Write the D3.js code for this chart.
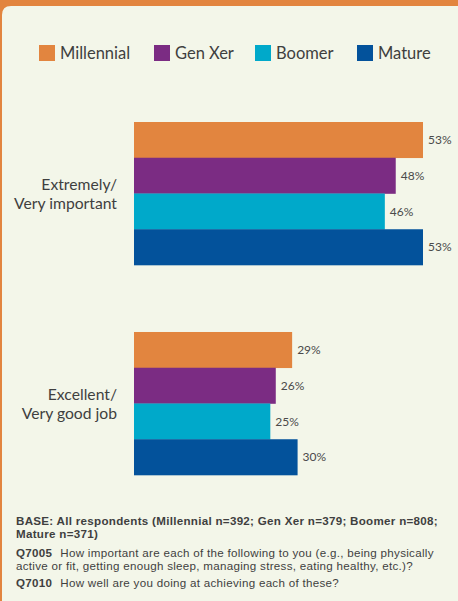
<!DOCTYPE html>
<html><head><meta charset="utf-8">
<script src="https://cdn.jsdelivr.net/npm/d3@7"></script>
<style>
html,body{margin:0;padding:0;background:#E2853F;}
svg{display:block;}
</style></head>
<body>
<svg id="chart" width="458" height="601"></svg>
<script>
const categories = [["Extremely/", "Very important"], ["Excellent/", "Very good job"]];
const categoryKeys = ["Extremely/Very important", "Excellent/Very good job"];
const series = ["Millennial", "Gen Xer", "Boomer", "Mature"];
const millennial = [53, 29];
const genXer = [48, 26];
const boomer = [46, 25];
const mature = [53, 30];
const colors = ["#E2853F", "#7B2C83", "#00A9CA", "#03529B"];
const footLines = [
  [{b:true,t:"BASE: All respondents (Millennial n=392; Gen Xer n=379; Boomer n=808;"}],
  [{b:true,t:"Mature n=371)"}],
  [{b:true,t:"Q7005"},{b:false,t:"How important are each of the following to you (e.g., being physically", dx:8}],
  [{b:false,t:"active or fit, getting enough sleep, managing stress, eating healthy, etc.)?"}],
  [{b:true,t:"Q7010"},{b:false,t:"How well are you doing at achieving each of these?", dx:8}]
];

const values = [millennial, genXer, boomer, mature];
const W = 458, H = 601;
const svg = d3.select("#chart");
const font = "Lato, 'Open Sans', sans-serif";
const footFont = "'Liberation Sans', Arial, sans-serif";
const textColor = "#3f3f3f";

// background panel with rounded top-left corner
const px = 2, py = 6, r = 9;
svg.append("rect").attr("width", W).attr("height", H).attr("fill", "#E2853F");
svg.append("path")
  .attr("d", `M${px},${H} L${px},${py + r} Q${px},${py} ${px + r},${py} L${W},${py} L${W},${H} Z`)
  .attr("fill", "#F3F6E9");

// scales
const x = d3.scaleLinear().domain([0, 53]).range([134, 423]);
const y0 = d3.scaleBand().domain(categoryKeys).range([122, 475]).paddingInner(0.319).paddingOuter(0);
const y1 = d3.scaleBand().domain(series).range([0, y0.bandwidth()]).padding(0);

const groups = svg.selectAll("g.grp").data(categoryKeys).join("g")
  .attr("class", "grp")
  .attr("transform", d => `translate(0,${y0(d)})`);

groups.each(function(cat, ci) {
  const g = d3.select(this);
  const rows = series.map((s, si) => ({s, si, v: values[si][ci]}));
  g.selectAll("rect").data(rows).join("rect")
    .attr("x", x(0))
    .attr("y", d => y1(d.s))
    .attr("width", d => x(d.v) - x(0))
    .attr("height", y1.bandwidth() + 0.3)
    .attr("fill", d => colors[d.si]);
  g.selectAll("text.val").data(rows).join("text")
    .attr("class", "val")
    .attr("x", d => x(d.v) + 5)
    .attr("y", d => y1(d.s) + y1.bandwidth() / 2)
    .attr("dy", "0.35em")
    .attr("font-family", font)
    .attr("font-size", 12)
    .attr("fill", "#4a4a4a")
    .text(d => d.v + "%");
  const c = y0.bandwidth() / 2;
  const lbl = g.append("text")
    .attr("text-anchor", "end")
    .attr("font-family", font)
    .attr("font-size", 15.7)
    .attr("fill", textColor);
  categories[ci].forEach((line, li) => {
    lbl.append("tspan").attr("x", 117).attr("y", c - 3.5 + li * 19).text(line);
  });
});

// legend
const legend = svg.append("g");
const legendX = [39, 154, 255, 357];
series.forEach((s, i) => {
  const item = legend.append("g").attr("transform", `translate(${legendX[i]},0)`);
  item.append("rect").attr("x", 0).attr("y", 45).attr("width", 16).attr("height", 16).attr("fill", colors[i]);
  item.append("text").attr("x", 21).attr("y", 53).attr("dy", "0.36em")
    .attr("font-family", font).attr("font-size", 16.5).attr("fill", textColor).text(s);
});

// footnote
const baselines = [525, 538, 557, 570, 587];
footLines.forEach((parts, i) => {
  const t = svg.append("text").attr("x", 16).attr("y", baselines[i])
    .attr("font-family", footFont).attr("font-size", 11.6)
    .attr("letter-spacing", 0.29).attr("fill", textColor);
  parts.forEach(p => t.append("tspan").attr("font-weight", p.b ? "bold" : "normal")
    .attr("dx", p.dx || 0).text(p.t));
});
</script>
</body></html>
